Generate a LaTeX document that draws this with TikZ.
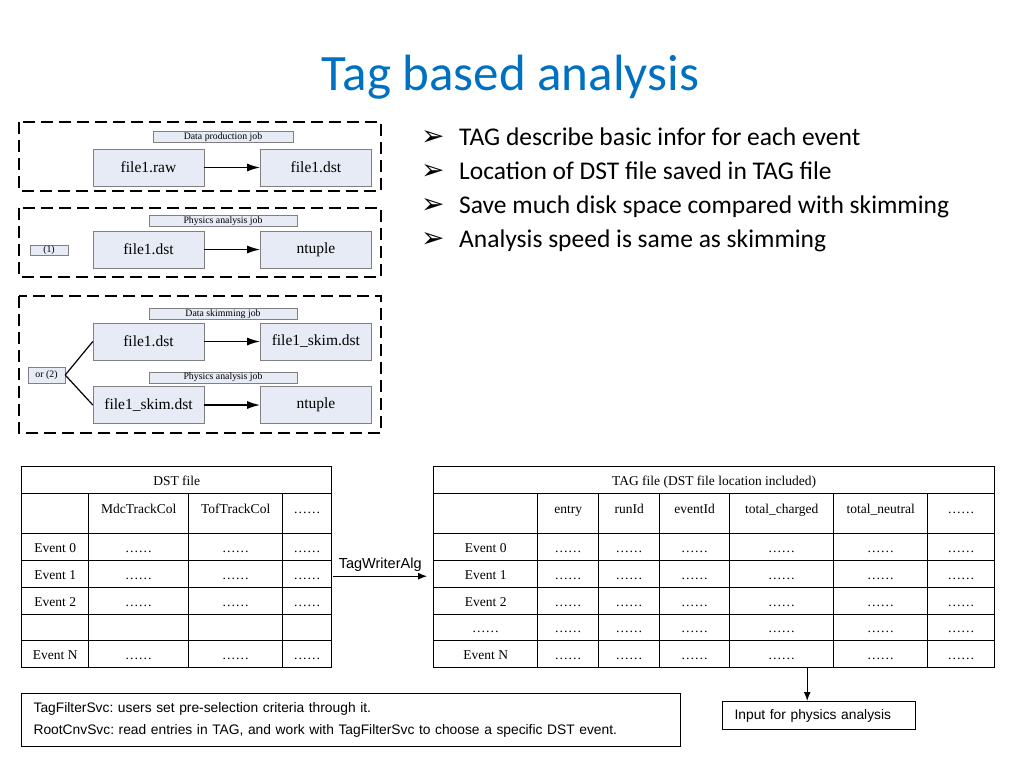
\documentclass[tikz,border=0pt]{standalone}
\usepackage{fontspec}
\usepackage{array}
\setmainfont{Carlito}
\newfontfamily\timesfont{Liberation Serif}
\newfontfamily\arialfont{Liberation Sans}
\newfontfamily\symbolfont{DejaVu Sans}
\usetikzlibrary{positioning,arrows.meta}
\definecolor{titleblue}{RGB}{0,112,192}
\definecolor{jobfill}{RGB}{230,235,245}
\definecolor{jobdraw}{RGB}{128,128,128}
\newcolumntype{C}[1]{>{\centering\arraybackslash}p{#1}}
\newcommand{\rowstrut}{\rule[-8pt]{0pt}{26pt}}
\newcommand{\headstrut}{\rule[-19.5pt]{0pt}{39pt}}
\newcommand{\bulletmark}{\makebox[38pt][l]{\symbolfont\fontsize{28}{28}\selectfont ➢}}
\setlength{\tabcolsep}{0pt}
\setlength{\arrayrulewidth}{1pt}
\frenchspacing

\begin{document}
\begin{tikzpicture}[
	x=1pt,y=-1pt,
	node distance=56pt,
	filenode/.style={draw=jobdraw,fill=jobfill,minimum width=111pt,minimum height=37pt,inner sep=0pt,font=\timesfont\fontsize{15.5}{18}\selectfont},
	jobnode/.style={draw=jobdraw,fill=jobfill,minimum width=148pt,minimum height=11pt,inner sep=0pt,font=\timesfont\fontsize{9.8}{11}\selectfont},
	jobframe/.style={line width=2pt,dash pattern=on 12pt off 6pt},
	bulletnode/.style={anchor=base west,inner sep=0pt,font=\fontsize{25.5}{30}\selectfont},
	tablenode/.style={anchor=north west,inner sep=0pt,font=\timesfont\fontsize{13.5}{16}\selectfont},
	textbox/.style={draw,line width=1.2pt,anchor=north west,inner xsep=12pt,inner ysep=0pt,align=left,font=\arialfont\fontsize{13.8}{22}\selectfont}
	]
	\useasboundingbox (0,0) rectangle (1024,766);
	\node[anchor=base,inner sep=0pt,text=titleblue,font=\fontsize{51}{60}\selectfont] (title) at (510.5,90) {Tag based analysis};
	
	% bullets
	\node[bulletnode] (b1) at (421,145) {\bulletmark TAG describe basic infor for each event};
	\node[bulletnode] (b2) at (421,179) {\bulletmark Location of DST file saved in TAG file};
	\node[bulletnode] (b3) at (421,213) {\bulletmark Save much disk space compared with skimming};
	\node[bulletnode] (b4) at (421,247) {\bulletmark Analysis speed is same as skimming};
	
	% jobs
	\draw[jobframe] (19,122) rectangle (381,191);
	\draw[jobframe] (19,208) rectangle (381,277);
	\draw[jobframe] (19,296) rectangle (381,433);
	\node[jobnode,minimum width=140pt] (prodjob) at (223,137) {Data production job};
	\node[filenode] (raw) at (148.5,167.5) {file1.raw};
	\node[filenode,right=of raw] (dsta) {file1.dst};
	\node[jobnode] (anajob) at (223,221) {Physics analysis job};
	\node[jobnode,minimum width=38pt,minimum height=10pt] (one) at (49,250) {(1)};
	\node[filenode] (dstb) at (148.5,249.5) {file1.dst};
	\node[filenode,right=of dstb] (ntuplea) {ntuple};
	\node[jobnode] (skimjob) at (223,314) {Data skimming job};
	\node[filenode] (dstc) at (148.5,341.5) {file1.dst};
	\node[filenode,right=of dstc] (skima) {file1\_skim.dst};
	\node[jobnode] (anajobb) at (223,377.5) {Physics analysis job};
	\node[jobnode,minimum width=37pt,minimum height=16pt] (two) at (46.5,375) {or (2)};
	\node[filenode] (skimb) at (148.5,405) {file1\_skim.dst};
	\node[filenode,right=of skimb] (ntupleb) {ntuple};
	\path [-{Latex[length=13pt,width=8pt]},line width=1.6pt]
	(raw) edge (dsta)
	(dstb) edge (ntuplea)
	(dstc) edge (skima)
	(skimb) edge (ntupleb);
	\path [line width=1.2pt]
	(two.east) edge (dstc.west)
	(two.east) edge (skimb.west);
	
	% tables
	\node[tablenode] (dst) at (21,466)
	{
		\begin{tabular}{|C{66pt}|C{99pt}|C{93pt}|C{48pt}|}
			\hline
			\multicolumn{4}{|c|}{\rowstrut DST file} \\
			\hline
			\headstrut & MdcTrackCol & TofTrackCol & …… \\
			\hline
			\rowstrut Event 0 & …… & …… & …… \\
			\hline
			\rowstrut Event 1 & …… & …… & …… \\
			\hline
			\rowstrut Event 2 & …… & …… & …… \\
			\hline
			\rule[-8pt]{0pt}{25pt} & & & \\
			\hline
			\rowstrut Event N & …… & …… & …… \\
			\hline
		\end{tabular}
	};
	\node[tablenode] (tag) at (433,466)
	{
		\begin{tabular}{|C{103pt}|C{60pt}|C{60pt}|C{69pt}|C{103pt}|C{93pt}|C{66pt}|}
			\hline
			\multicolumn{7}{|c|}{\rowstrut TAG file (DST file location included)} \\
			\hline
			\headstrut & entry & runId & eventId & total\_charged & total\_neutral & …… \\
			\hline
			\rowstrut Event 0 & …… & …… & …… & …… & …… & …… \\
			\hline
			\rowstrut Event 1 & …… & …… & …… & …… & …… & …… \\
			\hline
			\rowstrut Event 2 & …… & …… & …… & …… & …… & …… \\
			\hline
			\rule[-8pt]{0pt}{25pt}…… & …… & …… & …… & …… & …… & …… \\
			\hline
			\rowstrut Event N & …… & …… & …… & …… & …… & …… \\
			\hline
		\end{tabular}
	};
	\path [-{Latex[length=9pt,width=7pt]},line width=1pt]
	([xshift=1pt,yshift=-9pt]dst.east) edge node[above=1pt,font=\arialfont\fontsize{14.5}{17}\selectfont] {TagWriterAlg} ([xshift=-6pt,yshift=-9pt]tag.west);
	
	% services and output
	\node[textbox,text width=635pt,minimum height=53pt] (svc) at (21,693)
	{TagFilterSvc: users set pre-selection criteria through it.\\RootCnvSvc: read entries in TAG, and work with TagFilterSvc to choose a specific DST event.};
	\node[textbox,text width=169pt,minimum height=28pt] (input) at (722,701) {Input for physics analysis};
	\coordinate[xshift=93pt] (tagout) at (tag.south);
	\draw [-{Latex[length=9pt,width=7pt]},line width=1.2pt] (tagout) -- (tagout |- input.north);
\end{tikzpicture}
\end{document}
